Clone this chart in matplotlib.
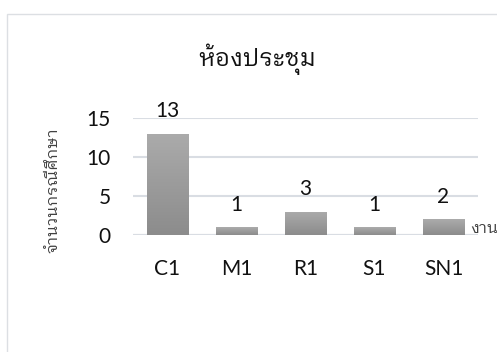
import numpy as np
import matplotlib
matplotlib.use("Agg")
import matplotlib.pyplot as plt
from matplotlib.patches import Rectangle

# ข้อมูลจำนวนกรณีศึกษาแยกตามประเภทงาน
categories = ["C1", "M1", "R1", "S1", "SN1"]
counts = [13, 1, 3, 1, 2]
yticks = [0, 5, 10, 15]

title = "ห้องประชุม"
ylabel = "จำนวนกรณีศึกษา"
xlabel = "งานระบบ"

thai = ["IBM Plex Sans Thai Looped", "Noto Sans Thai Looped", "DejaVu Sans"]
plt.rcParams["font.family"] = ["Lato", "DejaVu Sans"]

fig = plt.figure(figsize=(4.97, 3.52), dpi=100)
W, H = 497, 352
ax = fig.add_axes([133 / W, 1 - 235 / H, 345 / W, 117 / H])

x = np.arange(len(categories))
bars = ax.bar(x, counts, width=0.6, color="none", zorder=3)

# ไล่เฉดสีเทาในแต่ละแท่ง
grad = np.linspace(0, 1, 100).reshape(-1, 1)
cmap = matplotlib.colors.LinearSegmentedColormap.from_list("g", ["#8c8c8c", "#ababab"])
for b in bars:
    x0, w, h = b.get_x(), b.get_width(), b.get_height()
    im = ax.imshow(grad, cmap=cmap, aspect="auto", origin="lower",
                   extent=[x0, x0 + w, 0, h], zorder=3)
    im.set_clip_path(b)

for xi, v in zip(x, counts):
    ax.text(xi, v + 1.6, str(v), ha="center", va="bottom", fontsize=15, color="#111111")

ax.set_xlim(-0.5, len(categories) - 0.5)
ax.set_ylim(0, 15)
ax.set_yticks(yticks)
ax.set_xticks(x)
ax.set_xticklabels(categories)
ax.tick_params(axis="both", length=0, labelsize=15, colors="#111111")
ax.tick_params(axis="y", pad=16)
ax.tick_params(axis="x", pad=17)
ax.grid(axis="y", color="#d9dde3", linewidth=1.5, zorder=0)
for s in ax.spines.values():
    s.set_visible(False)
ax.axhline(0, color="#d9dde3", linewidth=1.5, zorder=1)

fig.text(257 / W, 1 - 59 / H, title, ha="center", va="center", fontsize=17,
         family=thai, color="#111111")
fig.text(53 / W, 1 - 190 / H, ylabel, ha="center", va="center", rotation=90,
         fontsize=11.5, family=thai, color="#404040")
fig.text(470 / W, 1 - 228 / H, xlabel, ha="left", va="center", fontsize=11.5,
         family=thai, color="#404040")

# กรอบของแผนภูมิ
fig.patches.append(Rectangle((7 / W, -0.1), 1.2, 1 - 14 / H + 0.1, transform=fig.transFigure,
                             fill=False, edgecolor="#dcdfe3", linewidth=1))

fig.savefig("out.png", dpi=100)
